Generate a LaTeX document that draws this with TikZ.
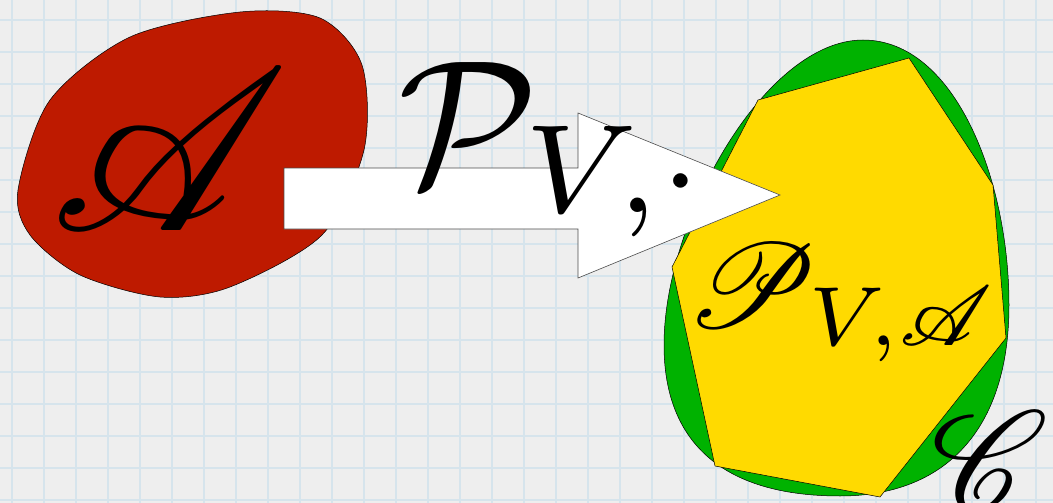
\documentclass[tikz,border=0pt]{standalone}
\usepackage{amssymb}
\usepackage{mathrsfs}
\usetikzlibrary{positioning}
\definecolor{paperBg}{RGB}{238,238,238}
\definecolor{paperLine}{RGB}{214,228,236}
\definecolor{setRed}{RGB}{190,26,0}
\definecolor{setGreen}{RGB}{0,178,0}
\definecolor{setYellow}{RGB}{255,218,0}
\tikzset{
    setshape/.style={draw=black, line width=0.5pt},
    bigsym/.style={inner sep=0pt, text=black}
}

\begin{document}
\begin{tikzpicture}[x=1pt,y=-1pt]
\clip (0,0) rectangle (1053,503);
% squared paper
\fill[paperBg] (0,0) rectangle (1053,503);
\foreach \gx in {12,44,...,1052}
    \draw[paperLine, line width=1.6pt] (\gx,0) -- (\gx,503);
\foreach \gy in {20,52,...,502}
    \draw[paperLine, line width=1.6pt] (0,\gy) -- (1053,\gy);

% the set A
\draw[setshape, fill=setRed] plot[smooth cycle] coordinates {
    (18,190) (50,100) (130,37) (240,12) (320,18) (362,65)
    (364,150) (322,235) (230,287) (160,297) (80,275) (30,235)};

% the set C and the polytope inside it
\draw[setshape, fill=setGreen] (863,40)
    .. controls (955,40) and (1009,180) .. (1009,305)
    .. controls (1009,430) and (945,496) .. (840,496)
    .. controls (720,496) and (664,440) .. (664,345)
    .. controls (664,220) and (765,40) .. (863,40);
\draw[setshape, fill=setYellow] (758,100) -- (909,58) -- (993,185) -- (1006,338)
    -- (880,497) -- (715,466) -- (672,267) -- cycle;

% the map
\draw[draw=black!70, line width=0.6pt, fill=white] (284,168) -- (578,168) -- (578,113)
    -- (780,195) -- (578,278) -- (578,229) -- (284,229) -- cycle;

\node[bigsym, scale=23] (setA) at (170,150) {$\mathscr{A}$};
\node[bigsym, scale=18] (mapP) at (555,150) {$\mathcal{P}_{V,\cdot}$};
\node[bigsym, scale=12] (polyP) at (843,303) {$\mathscr{P}_{V,\mathscr{A}}$};
\node[bigsym, scale=14] (setC) at (990,460) {$\mathscr{C}$};
\end{tikzpicture}
\end{document}
